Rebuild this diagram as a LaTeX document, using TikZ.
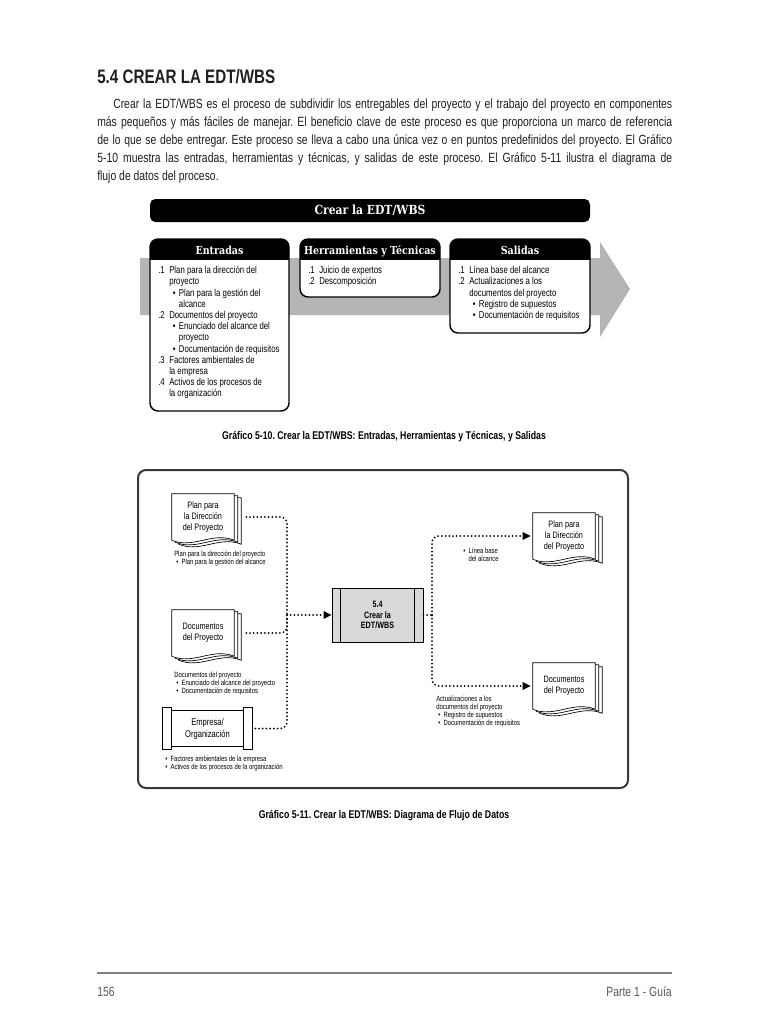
\documentclass[tikz,border=0pt]{standalone}
\usepackage{fontspec}
\setmainfont[FakeStretch=0.78]{Liberation Sans}
\newfontfamily\slab[FakeStretch=0.86]{DejaVu Serif}
\usetikzlibrary{calc,arrows.meta}
\frenchspacing

\pgfdeclarelayer{back}
\pgfsetlayers{back,main}

\definecolor{bandgray}{gray}{0.71}
\definecolor{procgray}{gray}{0.85}
\definecolor{framegray}{gray}{0.22}
\definecolor{footgray}{gray}{0.35}
\definecolor{inkgray}{gray}{0.12}

% columns of the numbered lists
\newcommand\nmb[1]{\makebox[8.25pt][l]{#1}}
\newcommand\ind{\hspace*{8.25pt}}
\newcommand\bul{\hspace*{11pt}\makebox[4.5pt][l]{•}}
\newcommand\bind{\hspace*{15.5pt}}
\newcommand\tbul{\hspace*{1.5pt}\makebox[4pt][l]{•}}
\newcommand\tind{\hspace*{5.5pt}}

% stacked pages behind a document node
\newcommand\docpages[1]{%
  \begin{pgfonlayer}{back}
    \foreach \k in {2,1,0}{%
      \filldraw[docline,fill=white]
        ($(#1.north west)+(3.5*\k,2*\k)$) -- ($(#1.north east)+(3.5*\k,2*\k)$)
        -- ($(#1.south east)+(3.5*\k,2*\k)$)
        .. controls +(-22,-9) and +(22,9) .. ($(#1.south west)+(3.5*\k,2*\k)$) -- cycle;
    }
  \end{pgfonlayer}}

\begin{document}
\begin{tikzpicture}[x=0.75pt,y=-0.75pt,
  boxline/.style={line width=1.1pt, rounded corners=6pt},
  headtext/.style={text=white, inner sep=0pt, text height=5.8pt, text depth=1.6pt, font=\slab\bfseries\fontsize{8.3}{9}\selectfont},
  boxtext/.style={anchor=north west, align=left, inner sep=0pt, font=\fontsize{7.5}{8.4}\selectfont},
  docnode/.style={minimum width=46.5pt, minimum height=34.5pt, inner sep=0pt, align=center, font=\fontsize{7}{8.2}\selectfont},
  docline/.style={line width=0.5pt},
  note/.style={anchor=north west, align=left, inner sep=0pt, font=\fontsize{5.7}{6}\selectfont},
  procbox/.style={draw, fill=procgray, line width=0.6pt, minimum width=68.25pt, minimum height=40.5pt, inner sep=0pt, align=center, font=\bfseries\fontsize{6.9}{7.9}\selectfont},
  flow/.style={line width=1.5pt, dash pattern=on 0pt off 2.8pt, line cap=round, rounded corners=5pt},
  flowto/.style={flow, -{Triangle[length=6pt,width=5.5pt]}},
  caption/.style={inner sep=0pt, font=\bfseries\fontsize{8.4}{9}\selectfont}]
  \begin{pgfonlayer}{back}
    \fill[white] (0,0) rectangle (768,1024);
  \end{pgfonlayer}
  \useasboundingbox (0,0) rectangle (768,1024);

  % heading and text
  \node[anchor=base west, inner sep=0pt, text=inkgray, font=\bfseries\fontsize{14.6}{16}\selectfont] (title) at (97,84) {5.4 CREAR LA EDT/WBS};
  \node[anchor=north west, inner sep=0pt, text width=431.25pt, align=justify, text=inkgray,
        font=\fontsize{10}{13.5}\selectfont] (intro) at (97,95) {\rule{0pt}{10pt}\hspace*{12pt}Crear la EDT/WBS es el proceso de subdividir los entregables del proyecto y el trabajo del proyecto en componentes\linebreak
  más pequeños y más fáciles de manejar. El beneficio clave de este proceso es que proporciona un marco de referencia\linebreak
  de lo que se debe entregar. Este proceso se lleva a cabo una única vez o en puntos predefinidos del proyecto. El Gráfico\linebreak
  5-10 muestra las entradas, herramientas y técnicas, y salidas de este proceso. El Gráfico 5-11 ilustra el diagrama de\linebreak
  flujo de datos del proceso.};

  % Grafico 5-10
  \node[fill=black, rounded corners=4pt, minimum width=330pt, minimum height=17.25pt, inner sep=0pt,
        text=white, font=\slab\bfseries\fontsize{9.4}{10}\selectfont] (hbar) at (370,210.5) {Crear la EDT/WBS};
  \fill[bandgray] (140,258) -- (600,258) -- (600,242) -- (630,289) -- (600,337) -- (600,315) -- (140,315) -- cycle;
  \foreach \xa/\xb/\yb in {150/289/411,300/440/297,450/590/333}{
    \fill[white, rounded corners=6pt] (\xa,239) rectangle (\xb,\yb);
    \begin{scope}
      \clip (\xa,238) rectangle (\xb,259);
      \fill[rounded corners=6pt] (\xa,239) rectangle (\xb,\yb);
    \end{scope}
    \draw[boxline] (\xa,239) rectangle (\xb,\yb);
  }
  \node[headtext] (hin) at (219.5,251.5) {Entradas};
  \node[headtext] (htt) at (370,251.5) {Herramientas y Técnicas};
  \node[headtext] (hout) at (520,251.5) {Salidas};
  \node[boxtext] (bin) at (158,264) {\rule{0pt}{7pt}\nmb{.1}Plan para la dirección del\\
    \ind proyecto\\
    \bul Plan para la gestión del\\
    \bind alcance\\
    \nmb{.2}Documentos del proyecto\\
    \bul Enunciado del alcance del\\
    \bind proyecto\\
    \bul Documentación de requisitos\\
    \nmb{.3}Factores ambientales de\\
    \ind la empresa\\
    \nmb{.4}Activos de los procesos de\\
    \ind la organización};
  \node[boxtext] (btt) at (308,264) {\rule{0pt}{7pt}\nmb{.1}Juicio de expertos\\
    \nmb{.2}Descomposición};
  \node[boxtext] (bout) at (458,264) {\rule{0pt}{7pt}\nmb{.1}Línea base del alcance\\
    \nmb{.2}Actualizaciones a los\\
    \ind documentos del proyecto\\
    \bul Registro de supuestos\\
    \bul Documentación de requisitos};
  \node[caption] (cap10) at (384,437) {Gráfico 5-10. Crear la EDT/WBS: Entradas, Herramientas y Técnicas, y Salidas};

  % Grafico 5-11
  \draw[framegray, line width=1.5pt, rounded corners=6pt] (138,470) rectangle (628,788);

  \node[docnode] (pdin) at (203,517) {Plan para\\la Dirección\\del Proyecto};
  \node[docnode] (ddin) at (203,633) {Documentos\\del Proyecto};
  \node[docnode] (pdout) at (564,536) {Plan para\\la Dirección\\del Proyecto};
  \node[docnode] (ddout) at (564,686) {Documentos\\del Proyecto};
  \docpages{pdin}
  \docpages{ddin}
  \docpages{pdout}
  \docpages{ddout}

  \node[minimum width=66.75pt, minimum height=30.75pt, inner sep=0pt, align=center,
        font=\fontsize{7.3}{9}\selectfont] (emp) at (207.5,728.5) {Empresa/\\Organización};
  \draw[docline] (emp.north west) rectangle ($(emp.south west)+(9,0)$);
  \draw[docline] (emp.north east) rectangle ($(emp.south east)+(-9,0)$);
  \draw[docline] ($(emp.north west)+(9,3)$) -- ($(emp.north east)+(-9,3)$);
  \draw[docline] ($(emp.south west)+(9,-3)$) -- ($(emp.south east)+(-9,-3)$);

  \node[procbox] (proc) at (377.5,615) {5.4\\Crear la\\EDT/WBS};
  \draw[docline] ($(proc.north west)+(9,0)$) -- ($(proc.south west)+(9,0)$);
  \draw[docline] ($(proc.north east)+(-9,0)$) -- ($(proc.south east)+(-9,0)$);

  \node[note] (pdinlbl) at (174,550) {\rule{0pt}{5pt}Plan para la dirección del proyecto\\
    \tbul Plan para la gestión del alcance};
  \node[note] (ddinlbl) at (174,671) {\rule{0pt}{5pt}Documentos del proyecto\\
    \tbul Enunciado del alcance del proyecto\\
    \tbul Documentación de requisitos};
  \node[note] (emplbl) at (163,755) {\rule{0pt}{5pt}\tbul Factores ambientales de la empresa\\
    \tbul Activos de los procesos de la organización};
  \node[note] (pdoutlbl) at (461,547) {\rule{0pt}{5pt}\tbul Línea base\\
    \tind del alcance};
  \node[note] (ddoutlbl) at (436,695) {\rule{0pt}{5pt}Actualizaciones a los\\
    documentos del proyecto\\
    \tbul Registro de supuestos\\
    \tbul Documentación de requisitos};

  \coordinate (jin) at (287,615);
  \coordinate (jout) at (432,615);
  \draw[flow] ($(pdin.east)+(12,0)$) -| (jin);
  \draw[flow] ($(ddin.east)+(12,0)$) -| (jin);
  \draw[flow] ($(emp.east)+(3,0)$) -| (jin);
  \draw[flowto] (jin) -- (proc.west);
  \draw[flow] (proc.east) -- (jout);
  \draw[flowto] (jout) |- ($(pdout.west)+(-2,0)$);
  \draw[flowto] (jout) |- ($(ddout.west)+(-2,0)$);

  \node[caption] (cap11) at (384,816) {Gráfico 5-11. Crear la EDT/WBS: Diagrama de Flujo de Datos};

  % footer
  \draw[gray, line width=1.2pt] (97,973) -- (672,973);
  \node[anchor=base west, inner sep=0pt, text=footgray, font=\fontsize{10}{12}\selectfont] (pnum) at (97,996) {156};
  \node[anchor=base east, inner sep=0pt, text=footgray, font=\fontsize{10}{12}\selectfont] (part) at (672,996) {Parte 1 - Guía};
\end{tikzpicture}
\end{document}
